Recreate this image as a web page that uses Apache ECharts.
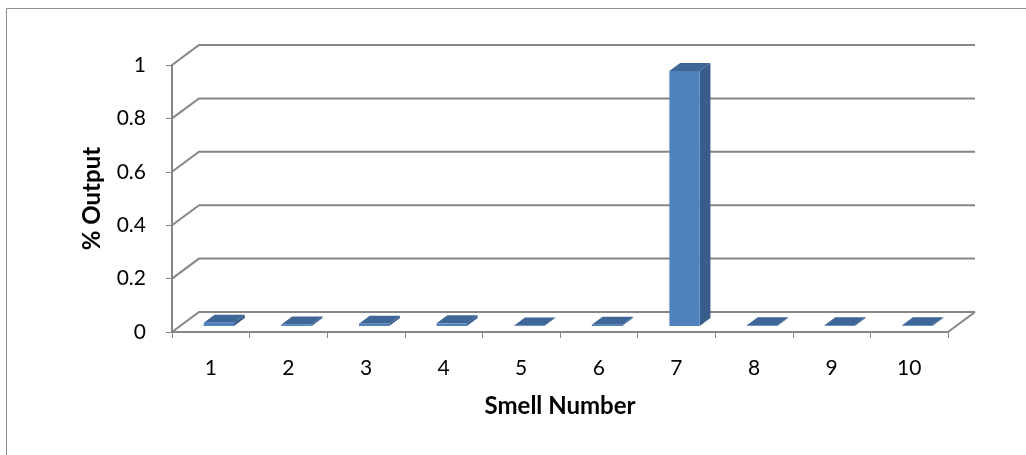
<!DOCTYPE html>
<html>
<head>
<meta charset="utf-8">
<script src="https://cdn.jsdelivr.net/npm/echarts@6/dist/echarts.min.js"></script>
<style>
  html, body { margin: 0; padding: 0; background: #ffffff; }
  #chart { width: 1026px; height: 455px; }
</style>
</head>
<body>
<div id="chart"></div>
<script>
// Smell categories and the share of output assigned to each
const smellNumbers = ['1', '2', '3', '4', '5', '6', '7', '8', '9', '10'];
const outputShare = [0.012, 0.006, 0.008, 0.010, 0.002, 0.005, 0.955, 0.003, 0.003, 0.003];
const yTicks = [0, 0.2, 0.4, 0.6, 0.8, 1];

// Perspective offset of the back wall relative to the front plane
const DEPTH_X = 27;
const DEPTH_Y = -20;
// Columns occupy the middle part of the depth
const BAR_NEAR = 0.3;
const BAR_FAR = 0.7;
const BAR_WIDTH_RATIO = 0.39;

const GRID_COLOR = '#868686';
const FRONT_COLOR = '#4F81BD';
const SIDE_COLOR = '#385D8A';
const TOP_COLOR = '#3E6696';
const FONT = 'Lato, "Open Sans", sans-serif';

const chart = echarts.init(document.getElementById('chart'));

// Gridlines: slanted segment along the side wall, then straight along the back wall
function renderFrame(params, api) {
  const cs = params.coordSys;
  const v = api.value(0);
  const y = api.coord([0, v])[1];
  const x0 = cs.x;
  const x1 = cs.x + cs.width;
  const children = [{
    type: 'polyline',
    shape: { points: [[x0, y], [x0 + DEPTH_X, y + DEPTH_Y], [x1 + DEPTH_X, y + DEPTH_Y]] },
    style: { stroke: GRID_COLOR, lineWidth: 2, fill: null }
  }];
  if (v === 0) {
    children.push({
      type: 'line',
      shape: { x1: x1, y1: y, x2: x1 + DEPTH_X, y2: y + DEPTH_Y },
      style: { stroke: GRID_COLOR, lineWidth: 2 }
    });
  }
  return { type: 'group', children: children };
}

// 3D column: front face, right side face and top face
function renderColumn(params, api) {
  const idx = api.value(0);
  const val = api.value(1);
  const base = api.coord([idx, 0]);
  const top = api.coord([idx, val]);
  const band = api.size([1, 0])[0];
  const w = band * BAR_WIDTH_RATIO;
  const nx = BAR_NEAR * DEPTH_X, ny = BAR_NEAR * DEPTH_Y;
  const dx = (BAR_FAR - BAR_NEAR) * DEPTH_X, dy = (BAR_FAR - BAR_NEAR) * DEPTH_Y;
  const left = base[0] + nx - w / 2;
  const right = left + w;
  const yb = base[1] + ny;
  const yt = top[1] + ny;
  return {
    type: 'group',
    children: [
      {
        type: 'polygon',
        shape: { points: [[right, yb], [right + dx, yb + dy], [right + dx, yt + dy], [right, yt]] },
        style: { fill: SIDE_COLOR }
      },
      {
        type: 'polygon',
        shape: { points: [[left, yt], [right, yt], [right + dx, yt + dy], [left + dx, yt + dy]] },
        style: { fill: TOP_COLOR }
      },
      {
        type: 'rect',
        shape: { x: left, y: yt, width: w, height: Math.max(yb - yt, 0.6) },
        style: { fill: FRONT_COLOR }
      }
    ]
  };
}

chart.setOption({
  animation: false,
  backgroundColor: '#ffffff',
  graphic: [{
    type: 'rect',
    shape: { x: 6.5, y: 8.5, width: 1100, height: 500 },
    style: { fill: null, stroke: '#8c8c8c', lineWidth: 1 },
    silent: true
  }],
  grid: { left: 172, right: 78, top: 65, bottom: 123 },
  xAxis: {
    type: 'category',
    data: smellNumbers,
    boundaryGap: true,
    name: 'Smell Number',
    nameLocation: 'middle',
    nameGap: 62,
    nameTextStyle: { fontFamily: FONT, fontSize: 24, fontWeight: 'bold', color: '#000' },
    axisLine: { lineStyle: { color: GRID_COLOR, width: 2 } },
    axisTick: { show: true, length: 6, alignWithLabel: false, lineStyle: { color: GRID_COLOR, width: 1 } },
    axisLabel: { fontFamily: FONT, fontSize: 21, color: '#000', margin: 26 },
    splitLine: { show: false }
  },
  yAxis: {
    type: 'value',
    min: 0,
    max: 1,
    interval: 0.2,
    name: '% Output',
    nameLocation: 'middle',
    nameRotate: 90,
    nameGap: 68,
    nameTextStyle: { fontFamily: FONT, fontSize: 24, fontWeight: 'bold', color: '#000' },
    axisLine: { show: true, lineStyle: { color: GRID_COLOR, width: 2 } },
    axisTick: { show: true, length: 6, lineStyle: { color: GRID_COLOR, width: 1 } },
    axisLabel: {
      fontFamily: FONT, fontSize: 21, color: '#000', margin: 26,
      formatter: function (v) { return String(+v.toFixed(1)); }
    },
    splitLine: { show: false }
  },
  series: [
    {
      type: 'custom',
      name: 'frame',
      renderItem: renderFrame,
      data: yTicks.map(function (v) { return [v]; }),
      encode: { y: 0 },
      silent: true,
      z: 1
    },
    {
      type: 'custom',
      name: '% Output',
      renderItem: renderColumn,
      data: outputShare.map(function (v, i) { return [i, v]; }),
      encode: { x: 0, y: 1 },
      z: 3
    }
  ]
});
</script>
</body>
</html>
